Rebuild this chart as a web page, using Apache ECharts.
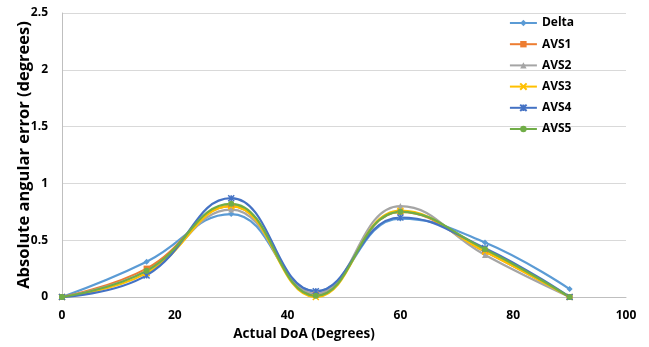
<!DOCTYPE html>
<html>
	<head>
		<meta charset="utf-8">
		<title>doa error</title>
		<script src="https://cdn.jsdelivr.net/npm/echarts@6/dist/echarts.min.js"></script>
	</head>
	<body style="margin:0">
		<div id="box" style="width: 649px;height: 347px;"></div>
		<script>
			var mCharts = echarts.init(document.querySelector('#box'))

			// 实际角度
			var doa = [0, 15, 30, 45, 60, 75, 90]
			var names = ['Delta', 'AVS1', 'AVS2', 'AVS3', 'AVS4', 'AVS5']
			var delta = [0, 0.31, 0.73, 0.05, 0.69, 0.48, 0.07]
			var avs1 = [0, 0.25, 0.80, 0.02, 0.75, 0.40, 0]
			var avs2 = [0, 0.23, 0.77, 0.03, 0.80, 0.37, 0]
			var avs3 = [0, 0.21, 0.80, 0.00, 0.76, 0.40, 0]
			var avs4 = [0, 0.19, 0.87, 0.05, 0.70, 0.43, 0]
			var avs5 = [0, 0.23, 0.82, 0.01, 0.75, 0.42, 0]

			var colors = ['#5B9BD5', '#ED7D31', '#A5A5A5', '#FFC000', '#4472C4', '#70AD47']
			var symbols = ['diamond', 'rect', 'triangle',
				'path://M0,0L10,10M10,0L0,10',
				'path://M0,0L10,10M10,0L0,10M5,0L5,10',
				'circle']
			var allData = [delta, avs1, avs2, avs3, avs4, avs5]

			var series = names.map(function(n, i) {
				return {
					name: n,
					type: 'line',
					smooth: 0.45,
					data: doa.map(function(x, j) { return [x, allData[i][j]] }),
					symbol: symbols[i],
					symbolSize: 6,
					lineStyle: { width: 2.2, color: colors[i] },
					itemStyle: { color: colors[i], borderColor: colors[i], borderWidth: (i === 3 || i === 4) ? 1.5 : 0 }
				}
			})

			var option = {
				animation: false,
				grid: { left: 62, right: 23, top: 13, bottom: 50, outerBoundsMode: 'none' },
				legend: {
					orient: 'vertical',
					right: 70,
					top: 12,
					itemGap: 9.2,
					itemWidth: 27,
					itemHeight: 8,
					textStyle: { fontFamily: 'Open Sans', fontWeight: 'bold', fontSize: 12, color: '#000' },
					data: names
				},
				xAxis: {
					type: 'value',
					min: 0,
					max: 100,
					interval: 20,
					name: 'Actual DoA (Degrees)',
					nameLocation: 'middle',
					nameGap: 30,
					nameTextStyle: { fontFamily: 'Open Sans', fontWeight: 'bold', fontSize: 13.5, color: '#000', padding: [0, 80, 0, 0] },
					axisLine: { lineStyle: { color: '#bfbfbf' } },
					axisTick: { show: false },
					splitLine: { show: false },
					axisLabel: { fontFamily: 'Open Sans', fontWeight: 'bold', fontSize: 12, color: '#000', margin: 13 }
				},
				yAxis: {
					type: 'value',
					min: 0,
					max: 2.5,
					interval: 0.5,
					name: 'Absolute angular error (degrees)',
					nameLocation: 'middle',
					nameGap: 29,
					nameMoveOverlap: false,
					nameTextStyle: { fontFamily: 'Open Sans', fontWeight: 'bold', fontSize: 16.5, color: '#000' },
					axisLine: { show: true, lineStyle: { color: '#bfbfbf' } },
					axisTick: { show: false },
					splitLine: { lineStyle: { color: '#d9d9d9' } },
					axisLabel: { fontFamily: 'Open Sans', fontWeight: 'bold', fontSize: 12, color: '#000', margin: 14 }
				},
				series: series
			}
			mCharts.setOption(option)
		</script>
	</body>
</html>
